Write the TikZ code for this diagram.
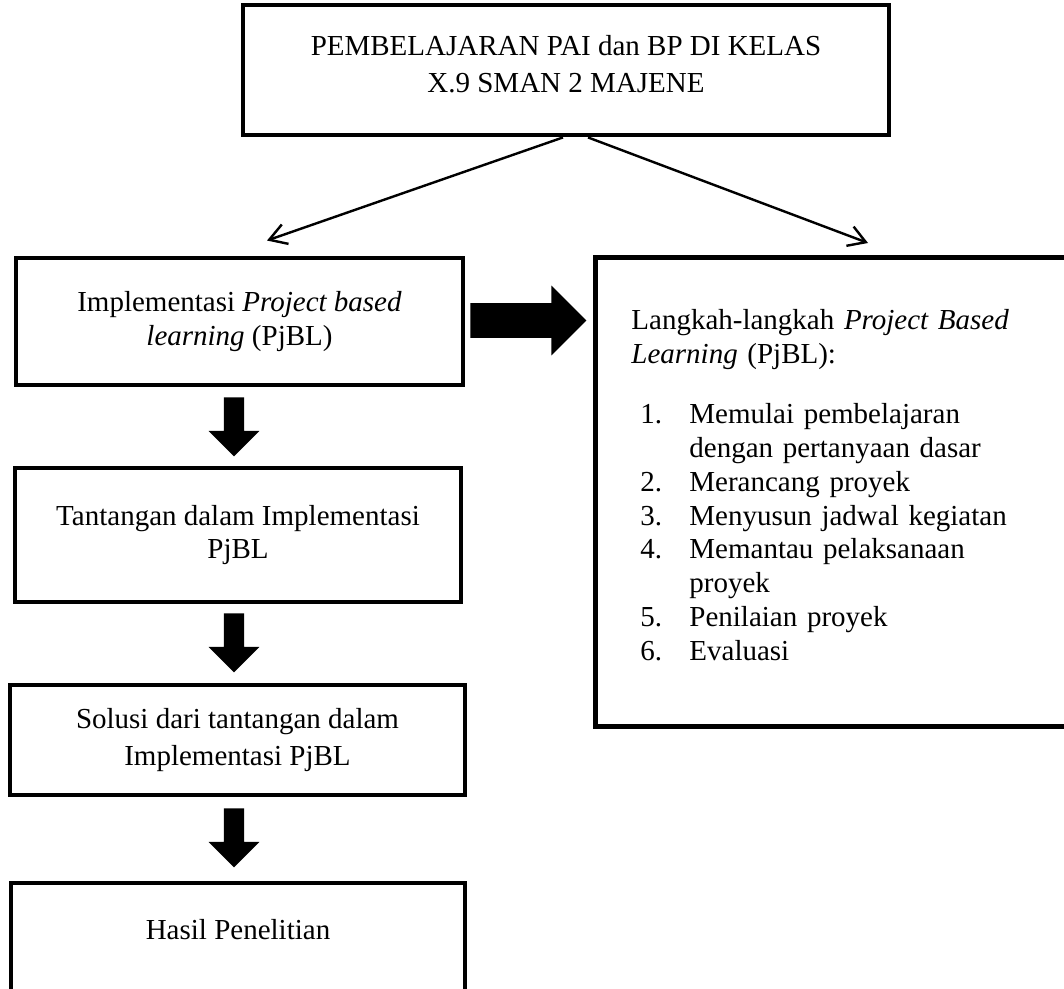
\documentclass[tikz,border=0pt]{standalone}
\usepackage{fontspec}
\setmainfont{Liberation Serif}
\usetikzlibrary{shapes.arrows,arrows.meta,calc}

\tikzset{
  kotak/.style={draw, line width=2pt, align=center, inner sep=0pt,
    font=\fontsize{12}{14}\selectfont},
  garis/.style={line width=1pt, -{Straight Barb[length=7pt,width=8.5pt]}},
  panahbawah/.style={single arrow, fill=black, draw=none, rotate=-90, anchor=tip,
    inner xsep=0pt, inner ysep=4pt, minimum width=20.7pt,
    single arrow head extend=6.35pt, minimum height=24.4pt},
  panahkanan/.style={single arrow, fill=black, draw=none, anchor=tip,
    inner xsep=0pt, inner ysep=7pt, minimum width=28.5pt,
    single arrow head extend=7.25pt, minimum height=48pt}
}

\begin{document}
\begin{tikzpicture}[x=0.4138pt,y=-0.4138pt]
  \useasboundingbox (0,0) rectangle (1064,989);

  % kotak-kotak
  \node[kotak, minimum width=267.3pt, minimum height=53.8pt, text depth=5pt,
        font=\fontsize{12}{15.7}\selectfont] (judul) at (566,70)
        {PEMBELAJARAN PAI dan BP DI KELAS\\ X.9 SMAN 2 MAJENE};
  \node[kotak, minimum width=185pt, minimum height=52.6pt] (implementasi) at (239.5,321.5)
        {Implementasi \textit{Project based}\\ \textit{learning} (PjBL)};
  \node[kotak, minimum width=184.6pt, minimum height=55.4pt] (tantangan) at (238,535)
        {Tantangan dalam Implementasi\\ PjBL};
  \node[kotak, minimum width=188.3pt, minimum height=45.5pt,
        font=\fontsize{12}{15.7}\selectfont] (solusi) at (237.5,740)
        {Solusi dari tantangan dalam\\ Implementasi PjBL};
  \node[kotak, minimum width=187.9pt, minimum height=52.6pt, text depth=14.5pt] (hasil) at (238,946.5)
        {Hasil Penelitian};
  \node[kotak, align=left, anchor=north west, text width=170pt, inner xsep=14.9pt,
        minimum height=194pt] (langkah) at (593,255)
        {Langkah-langkah \textit{Project Based}\\
         \textit{Learning} (PjBL):\\[10.8pt]
         \hspace*{3.7pt}\makebox[20.3pt][l]{1.}Memulai pembelajaran\\
         \hspace*{24pt}dengan pertanyaan dasar\\
         \hspace*{3.7pt}\makebox[20.3pt][l]{2.}Merancang proyek\\
         \hspace*{3.7pt}\makebox[20.3pt][l]{3.}Menyusun jadwal kegiatan\\
         \hspace*{3.7pt}\makebox[20.3pt][l]{4.}Memantau pelaksanaan\\
         \hspace*{24pt}proyek\\
         \hspace*{3.7pt}\makebox[20.3pt][l]{5.}Penilaian proyek\\
         \hspace*{3.7pt}\makebox[20.3pt][l]{6.}Evaluasi\vspace*{5.5pt}};

  % panah tebal
  \node[panahkanan] (pk) at (587,320.5) {};
  \node[panahbawah] (p1) at (234,457) {};
  \node[panahbawah] (p2) at (234,673) {};
  \node[panahbawah] (p3) at (234,868) {};

  % panah tipis
  \draw[garis] ($(judul.south)+(-3,0)$) -- ($(implementasi.north)+(27.5,-15)$);
  \draw[garis] ($(judul.south)+(22,0)$) -- ($(langkah.north west)+(275,-12)$);
\end{tikzpicture}
\end{document}
